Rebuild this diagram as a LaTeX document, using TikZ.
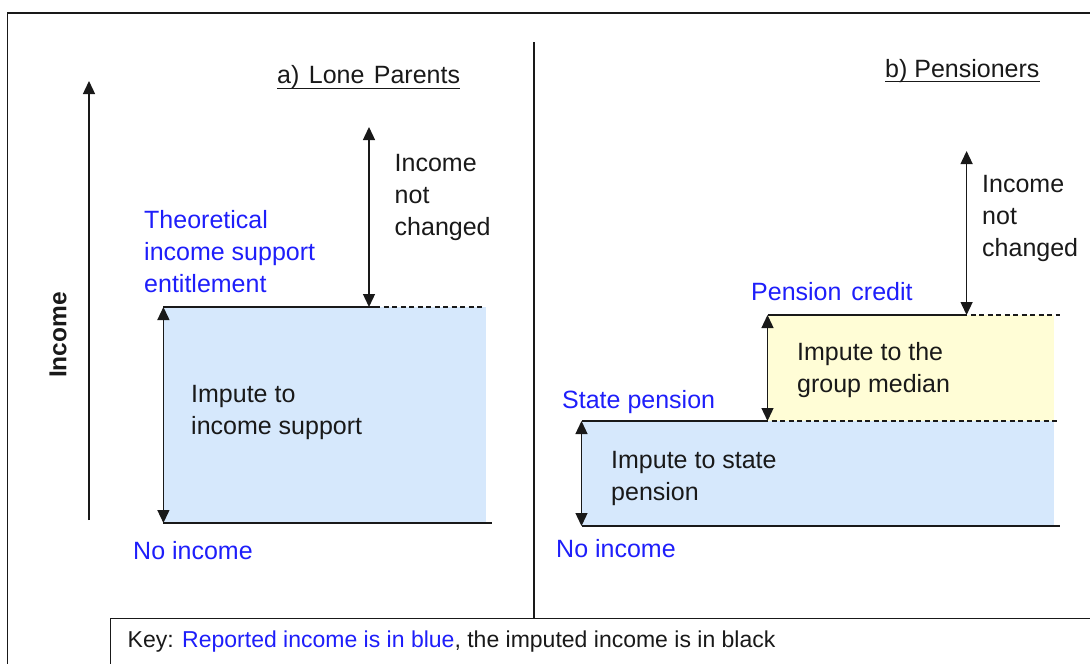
\documentclass[tikz,border=0pt]{standalone}
\usepackage{fontspec}
\setmainfont{Liberation Sans}
\usetikzlibrary{arrows.meta}
\definecolor{repblue}{RGB}{30,30,250}
\definecolor{fillblue}{RGB}{214,232,252}
\definecolor{fillyel}{RGB}{255,253,214}
\definecolor{ink}{RGB}{25,25,25}
\begin{document}
\begin{tikzpicture}[x=1pt,y=-1pt,
  line/.style={line width=1.3pt, draw=ink},
  dblarrow/.style={line width=1.3pt, draw=ink, {Triangle[width=12pt,length=13pt]}-{Triangle[width=12pt,length=13pt]}},
  uparrow/.style={line width=1.3pt, draw=ink, -{Triangle[width=12pt,length=13pt]}},
  dashline/.style={line width=1.2pt, draw=ink, dash pattern=on 5pt off 3.5pt},
  txt/.style={font=\fontsize{25}{31.7}\selectfont, text=ink, anchor=base west, inner sep=0pt, align=left},
  rep/.style={txt, text=repblue},
  ttl/.style={txt, font=\fontsize{25}{28}\selectfont},
  uline/.style={line width=1pt, draw=ink},
  ]
\useasboundingbox (0,0) rectangle (1090,664);
\clip (0,0) rectangle (1090,664);

% outer frame and dividers
\draw[line width=1.5pt, draw=ink] (7.6,13) rectangle (1110,700);
\coordinate (divtop) at (534,42);
\coordinate (divbot) at (534,618);
\draw[line] (divtop) -- (divbot);
\node[draw=ink, line width=1.3pt, fill=white, anchor=north west, minimum width=1100pt, minimum height=80pt, inner sep=0pt] (keybox) at (110,618) {};
\node[txt, font=\fontsize{23}{26}\selectfont] (key) at (127.5,647) {Key: \textcolor{repblue}{Reported income is in blue}, the imputed income is in black};

% ---- axis
\coordinate (axbot) at (89,520);
\coordinate (axtop) at (89,81);
\draw[uparrow] (axbot) -- (axtop);
\node[font=\bfseries\fontsize{24.5}{26}\selectfont, text=ink, rotate=90, inner sep=0pt] (axlabel) at (58,335) {Income};

% ---- panel a
\fill[fillblue] (163.4,307) rectangle (485.6,523);
\coordinate (aTL) at (163.4,307);
\coordinate (aBL) at (163.4,523);
\coordinate (aTM) at (369,307);
\coordinate (aTR) at (483,307);
\coordinate (aBR) at (492,523);
\coordinate (aTop) at (369,127);
\draw[line] (aTL) -- (aTM) -- ++(6,0);
\draw[dashline] ([xshift=6pt]aTM) -- (aTR);
\draw[line] (aBL) -- (aBR);
\draw[dblarrow] (aTL) -- (aBL);
\draw[dblarrow] (aTop) -- (aTM);

\node[ttl] (titleA) at (277,83) {a)\hspace{2.5pt} Lone\hspace{2.5pt} Parents};
\draw[uline] ([yshift=-5pt]titleA.base west) -- ([yshift=-5pt]titleA.base east);
\node[txt] (ancA) at (394.5,235) {Income\\not\\changed};
\node[rep] (theo) at (144,292) {Theoretical\\income support\\entitlement};
\node[txt] (impA) at (191,434) {Impute to\\income support};
\node[rep] (noA) at (133,559) {No income};

% ---- panel b
\fill[fillyel] (767.5,315) rectangle (1053.5,421);
\fill[fillblue] (581.5,421) rectangle (1053.5,526);
\coordinate (cTL) at (767.5,315);
\coordinate (cBL) at (767.5,421);
\coordinate (cTM) at (966.6,315);
\coordinate (cTR) at (1060,315);
\coordinate (sTL) at (581.5,421);
\coordinate (sTR) at (1058,421);
\coordinate (sBL) at (581.5,526);
\coordinate (sBR) at (1060,526);
\coordinate (bTop) at (966.6,151);
\draw[line] (cTL) -- (cTM);
\draw[dashline] ([xshift=4pt]cTM) -- (cTR);
\draw[line] (sTL) -- (cBL);
\draw[dashline] ([xshift=4pt]cBL) -- (sTR);
\draw[line] (sBL) -- (sBR);
\draw[dblarrow] (cTL) -- (cBL);
\draw[dblarrow] (sTL) -- (sBL);
\draw[dblarrow] (bTop) -- (cTM);

\node[ttl] (titleB) at (885,77) {b) Pensioners};
\draw[uline] ([yshift=-4.5pt]titleB.base west) -- ([yshift=-4.5pt]titleB.base east);
\node[txt] (ancB) at (982,256) {Income\\not\\changed};
\node[rep] (pc) at (751,300) {Pension\hspace{3pt} credit};
\node[txt] (impC) at (797,392) {Impute to the\\group median};
\node[rep] (sp) at (562,408) {State pension};
\node[txt] (impS) at (611,500) {Impute to state\\pension};
\node[rep] (noB) at (556,557) {No income};
\end{tikzpicture}
\end{document}
